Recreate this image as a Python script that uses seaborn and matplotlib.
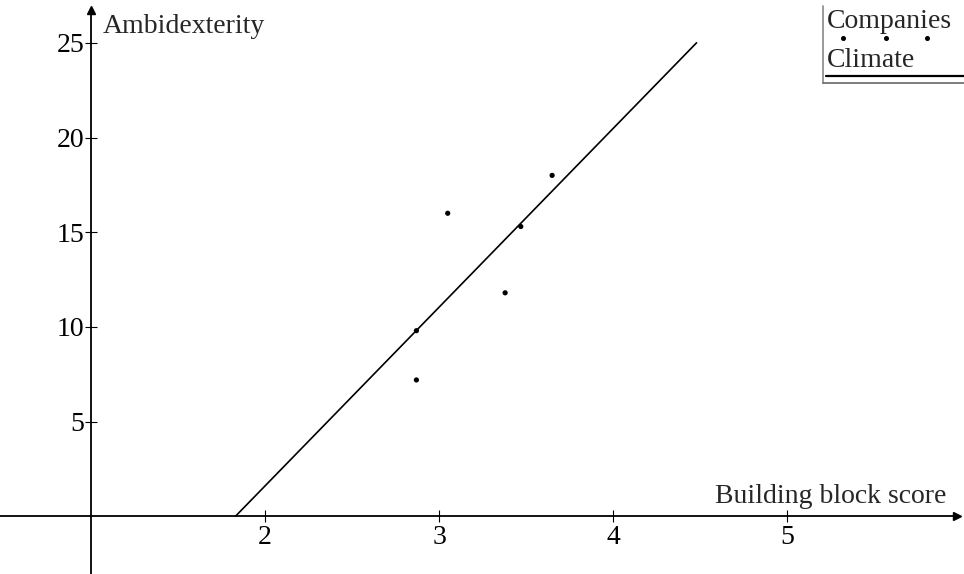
import matplotlib
matplotlib.use("Agg")
import matplotlib.pyplot as plt
from matplotlib.lines import Line2D
import seaborn as sns
import pandas as pd

# ---- data ----
company_score = [2.87, 2.87, 3.05, 3.38, 3.47, 3.65]
ambidexterity = [7.2, 9.8, 16.0, 11.8, 15.3, 18.0]
climate_x = [1.83, 4.48]
climate_y = [0.0, 25.0]
x_ticks = [2, 3, 4, 5]
y_ticks = [5, 10, 15, 20, 25]
x_label = "Building block score"
y_label = "Ambidexterity"
legend_labels = ["Companies", "Climate"]

sns.set_style("white")
plt.rcParams["font.family"] = ["Liberation Serif", "DejaVu Serif"]

W, H = 964, 574
fig = plt.figure(figsize=(W / 100, H / 100), dpi=100)
ax = fig.add_axes([0, 0, 1, 1])

pts = pd.DataFrame({"x": company_score, "y": ambidexterity})
line = pd.DataFrame({"x": climate_x, "y": climate_y})

sns.lineplot(data=line, x="x", y="y", ax=ax, color="black", linewidth=1.2, sort=False)
sns.scatterplot(data=pts, x="x", y="y", ax=ax, color="black", s=14, edgecolor="none")

ax.set_xlim(0.477, 6.017)
ax.set_ylim(-3.046, 27.26)
ax.set_xlabel("")
ax.set_ylabel("")

for s in ["top", "right"]:
    ax.spines[s].set_visible(False)
ax.spines["left"].set_position(("data", 1))
ax.spines["bottom"].set_position(("data", 0))
ax.spines["left"].set_bounds(-3.1, 26.7)
ax.spines["bottom"].set_bounds(0.477, 5.99)
for s in ["left", "bottom"]:
    ax.spines[s].set_color("black")
    ax.spines[s].set_linewidth(1.3)

# arrow heads on the axes
ax.plot([0.993], [0], marker=">", color="black", ms=6, transform=ax.get_yaxis_transform(),
        clip_on=False)
ax.plot([1], [0.982], marker="^", color="black", ms=6, transform=ax.get_xaxis_transform(),
        clip_on=False)

ax.set_xticks(x_ticks)
ax.set_yticks(y_ticks)
ax.set_xticklabels([str(t) for t in x_ticks])
ax.set_yticklabels([str(t) for t in y_ticks])
ax.tick_params(axis="both", which="major", bottom=True, left=True, direction="inout",
               length=8, width=0.8, colors="black", labelsize=20, pad=2)
ax.tick_params(axis="y", pad=1)

def fx(px):
    return px / W

def fy(py):
    return 1 - py / H

fig.text(fx(103), fy(33), y_label, fontsize=20, ha="left", va="baseline")
fig.text(fx(946), fy(503), x_label, fontsize=20, ha="right", va="baseline")

# legend box (top right)
fig.add_artist(Line2D([fx(823), fx(823)], [fy(6), fy(83)], color="#888888", lw=1.2))
fig.add_artist(Line2D([fx(823), fx(964)], [fy(83), fy(83)], color="#666666", lw=1.2))
fig.text(fx(827), fy(28), legend_labels[0], fontsize=20, ha="left", va="baseline")
fig.add_artist(Line2D([fx(843), fx(886), fx(927)], [fy(38)] * 3, ls="none", marker="o",
                      ms=2.6, color="black"))
fig.text(fx(827), fy(67), legend_labels[1], fontsize=20, ha="left", va="baseline")
fig.add_artist(Line2D([fx(826), fx(964)], [fy(76), fy(76)], color="black", lw=1.6))

fig.savefig("out.png", dpi=100, facecolor="white")
